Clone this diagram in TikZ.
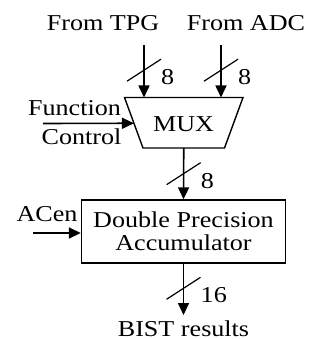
\documentclass[tikz,border=0pt]{standalone}
\usepackage{fontspec}
\setmainfont{Liberation Serif}[FakeStretch=1.15]
\usetikzlibrary{arrows.meta,calc}
\begin{document}
\begin{tikzpicture}[
        x=1pt, y=-1pt,
        font=\fontsize{22.7}{23}\selectfont,
        sig/.style={line width=1.6pt, -{Triangle[length=12pt, width=11pt]}},
        busLine/.style={line width=1.2pt},
        edge/.style={draw, line width=1.4pt},
        boxNode/.style={rectangle, edge, minimum width=204pt,
            minimum height=63pt, align=center, inner sep=0pt},
        lbl/.style={inner sep=0pt}
    ]
        \useasboundingbox (0,0) rectangle (320,339);

        % MUX outline
        \coordinate (mtl) at (124.5,97.5);
        \coordinate (mtr) at (243,97.5);
        \coordinate (mbr) at (224.5,148);
        \coordinate (mbl) at (143,148);
        \draw[edge, line join=miter] (mtl) -- (mtr) -- (mbr) -- (mbl) -- cycle;
        \node[lbl] (mux) at (183.5,124.5) {MUX};

        % Accumulator
        \node[boxNode] (acc) at (183.5,231.5) {Double Precision\\Accumulator};

        % Labels
        \node[lbl] (tpg) at (103,23) {From TPG};
        \node[lbl] (adc) at (246,23) {From ADC};
        \node[lbl] (func) at (74.5,108) {Function};
        \node[lbl] (ctrl) at (81.5,137) {Control};
        \node[lbl] (acen) at (47,214) {ACen};
        \node[lbl] (bist) at (183.5,329) {BIST results};

        % Free ends
        \coordinate (t1) at (144,45);
        \coordinate (t2) at (221,45);
        \coordinate (fcin) at (43,123.5);
        \coordinate (acin) at (33,233);
        \coordinate (out) at (183.5,315);

        % Signals
        \draw[sig] (t1) -- coordinate[pos=0.48] (b1) (t1 |- mtl);
        \draw[sig] (t2) -- coordinate[pos=0.48] (b2) (t2 |- mtl);
        \draw[sig] (fcin) -- ($(mtl)!0.51!(mbl)$);
        \draw[sig] ($(mbl)!0.5!(mbr)$) -- coordinate[pos=0.5] (b3) (acc.north);
        \draw[sig] (acin) -- (acin -| acc.west);
        \draw[sig] (acc.south) -- coordinate[pos=0.48] (b4) (out);

        % Bus widths
        \foreach \b/\w in {b1/8, b2/8, b3/8, b4/16} {
            \draw[busLine] ($(\b)+(-17,11)$) -- ($(\b)+(17,-11)$);
            \node[lbl, anchor=west] at ($(\b)+(17,7)$) {\w};
        }
    \end{tikzpicture}
\end{document}
